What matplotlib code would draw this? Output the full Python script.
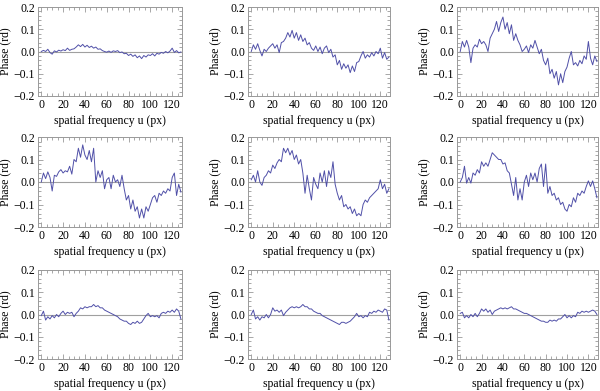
import numpy as np
import matplotlib
matplotlib.use("Agg")
import matplotlib.pyplot as plt
from matplotlib.ticker import MultipleLocator

# spatial frequency (px), sampled every 2 px
u = np.arange(0, 129, 2)

phase_1 = [0.000, 0.005, 0.000, 0.010, -0.005, -0.012, 0.003, -0.002, 0.006, 0.002,
           0.008, 0.004, 0.015, 0.005, 0.010, 0.012, 0.020, 0.030, 0.022, 0.032,
           0.020, 0.028, 0.018, 0.024, 0.015, 0.020, 0.010, 0.012, 0.004, 0.000,
           -0.003, 0.002, -0.004, 0.003, 0.000, 0.004, -0.005, -0.002, -0.010, -0.008,
           -0.018, -0.012, -0.022, -0.015, -0.028, -0.020, -0.032, -0.018, -0.025, -0.015,
           -0.018, -0.010, -0.020, -0.008, -0.012, -0.004, -0.008, 0.000, -0.006, 0.002,
           0.015, -0.004, 0.004, -0.006, -0.002]
phase_2 = [0.000, 0.030, 0.010, 0.035, 0.005, -0.020, 0.010, 0.000, 0.015, 0.025,
           0.035, 0.015, 0.030, -0.005, 0.040, 0.045, 0.060, 0.085, 0.065, 0.095,
           0.060, 0.085, 0.050, 0.075, 0.045, 0.060, 0.030, 0.040, 0.015, 0.005,
           0.025, 0.000, 0.020, -0.010, 0.015, 0.025, -0.005, 0.010, -0.025, -0.015,
           -0.060, -0.040, -0.080, -0.055, -0.075, -0.060, -0.095, -0.065, -0.090, -0.050,
           -0.045, -0.020, 0.000, -0.030, -0.015, -0.025, -0.005, -0.020, 0.000, -0.010,
           0.015, -0.030, -0.005, -0.035, -0.025]
phase_3 = [0.000, 0.045, 0.020, 0.050, 0.020, -0.050, 0.015, 0.030, 0.020, 0.055,
           0.035, 0.045, 0.030, 0.000, 0.060, 0.080, 0.100, 0.135, 0.090, 0.130,
           0.155, 0.100, 0.130, 0.080, 0.120, 0.050, 0.080, 0.050, 0.030, 0.000,
           0.010, 0.025, -0.005, 0.030, 0.015, 0.050, 0.020, -0.010, 0.010, -0.040,
           -0.060, -0.030, -0.100, -0.080, -0.120, -0.090, -0.150, -0.100, -0.140, -0.090,
           -0.070, -0.030, 0.000, -0.060, -0.050, -0.065, -0.040, -0.055, -0.020, -0.035,
           0.045, -0.030, -0.060, -0.020, -0.045]
phase_4 = [0.000, 0.040, 0.015, 0.045, 0.020, -0.040, 0.030, 0.025, 0.045, 0.055,
           0.040, 0.050, 0.045, 0.070, 0.035, 0.100, 0.090, 0.150, 0.110, 0.165,
           0.120, 0.100, 0.140, 0.090, 0.150, 0.000, 0.050, 0.020, 0.050, -0.030,
           0.010, 0.020, -0.030, 0.030, 0.000, 0.010, -0.020, 0.030, -0.030, -0.080,
           -0.060, -0.120, -0.080, -0.130, -0.110, -0.160, -0.120, -0.160, -0.110, -0.130,
           -0.100, -0.070, -0.060, -0.090, -0.050, -0.060, -0.040, -0.050, -0.030, -0.040,
           0.020, 0.040, -0.060, -0.010, -0.045]
phase_5 = [0.010, 0.030, 0.000, 0.050, 0.000, -0.015, 0.020, 0.030, 0.050, 0.040,
           0.075, 0.060, 0.085, 0.100, 0.090, 0.150, 0.130, 0.150, 0.120, 0.140,
           0.100, 0.120, 0.080, 0.100, 0.040, -0.050, 0.030, -0.030, -0.080, 0.020,
           -0.010, -0.030, 0.040, 0.000, 0.050, -0.020, 0.050, 0.020, 0.090, -0.010,
           -0.050, -0.080, -0.060, -0.110, -0.100, -0.120, -0.110, -0.140, -0.120, -0.150,
           -0.140, -0.150, -0.100, -0.080, -0.090, -0.070, -0.060, -0.050, -0.040, -0.030,
           0.010, -0.030, -0.010, -0.050, -0.030]
phase_6 = [0.000, 0.020, 0.070, -0.005, 0.020, -0.005, 0.040, 0.030, 0.055, 0.040,
           0.090, 0.070, 0.085, 0.070, 0.100, 0.130, 0.120, 0.110, 0.100, 0.100,
           0.080, 0.085, 0.050, 0.040, -0.010, -0.060, 0.020, -0.080, -0.030, -0.080,
           0.000, 0.030, -0.020, 0.040, 0.010, 0.040, 0.000, 0.060, 0.080, -0.020,
           0.080, -0.050, -0.020, -0.060, -0.050, -0.080, -0.070, -0.100, -0.090, -0.120,
           -0.130, -0.100, -0.110, -0.070, -0.090, -0.050, -0.060, -0.040, -0.050, -0.020,
           0.005, -0.020, 0.005, -0.030, -0.070]
phase_7 = [-0.005, 0.015, -0.025, -0.010, -0.020, -0.005, -0.015, 0.000, -0.010, 0.005,
           0.015, 0.000, 0.010, 0.005, 0.010, -0.010, 0.005, 0.015, 0.030, 0.025,
           0.035, 0.030, 0.035, 0.035, 0.045, 0.035, 0.040, 0.030, 0.030, 0.020,
           0.015, 0.010, 0.005, 0.000, -0.005, -0.010, -0.020, -0.025, -0.030, -0.030,
           -0.040, -0.045, -0.035, -0.040, -0.030, -0.040, -0.035, -0.020, -0.005, 0.005,
           -0.010, -0.005, -0.010, -0.005, -0.015, 0.005, 0.010, 0.005, 0.015, 0.010,
           0.020, 0.010, 0.025, 0.015, -0.020]
phase_8 = [0.000, 0.020, -0.020, -0.010, -0.025, -0.010, -0.015, 0.000, -0.015, 0.000,
           0.030, 0.015, 0.020, 0.010, 0.020, -0.005, 0.010, 0.020, 0.030, 0.035,
           0.030, 0.035, 0.030, 0.035, 0.045, 0.035, 0.035, 0.025, 0.025, 0.015,
           0.010, 0.005, 0.005, -0.005, -0.010, -0.015, -0.020, -0.025, -0.030, -0.035,
           -0.040, -0.045, -0.035, -0.035, -0.040, -0.035, -0.030, -0.020, -0.010, 0.005,
           -0.010, -0.005, -0.015, -0.005, -0.010, 0.010, 0.005, 0.015, 0.010, 0.020,
           0.015, 0.010, 0.025, 0.020, -0.025]
phase_9 = [0.005, 0.010, -0.015, -0.005, -0.015, 0.000, -0.010, 0.005, -0.010, 0.005,
           0.025, 0.015, 0.025, 0.010, 0.020, 0.000, 0.015, 0.020, 0.025, 0.030,
           0.025, 0.030, 0.025, 0.030, 0.035, 0.025, 0.025, 0.020, 0.015, 0.010,
           0.005, 0.005, 0.000, -0.005, -0.010, -0.015, -0.020, -0.025, -0.030, -0.030,
           -0.035, -0.035, -0.025, -0.030, -0.025, -0.030, -0.020, -0.020, -0.010, 0.000,
           -0.015, -0.005, -0.015, -0.005, -0.010, 0.010, 0.005, 0.015, 0.010, 0.015,
           0.010, 0.015, 0.020, 0.015, 0.000]

panels = [phase_1, phase_2, phase_3, phase_4, phase_5, phase_6, phase_7, phase_8, phase_9]

plt.rcParams['font.family'] = ['Liberation Serif', 'DejaVu Serif']
fs = 8.5

W, H = 600, 391
fig = plt.figure(figsize=(W / 100, H / 100), dpi=100)

# axes boxes in pixels: (left, right) per column, (top, bottom) per row
cols = [(38, 182), (248, 390), (457, 598)]
rows = [(7, 96), (137, 227), (270, 359)]

frame_col = '#999999'
line_col = '#5050a8'

for i, y in enumerate(panels):
    r, c = divmod(i, 3)
    l, rr = cols[c]
    t, b = rows[r]
    ax = fig.add_axes([l / W, 1 - b / H, (rr - l) / W, (b - t) / H])
    ax.axhline(0, color='#a0a0a0', lw=0.8, zorder=1)
    ax.plot(u, y, color=line_col, lw=0.7, zorder=2)
    ax.set_xlim(-3, 129)
    ax.set_ylim(-0.2, 0.2)
    ax.xaxis.set_major_locator(MultipleLocator(20))
    ax.xaxis.set_minor_locator(MultipleLocator(5))
    ax.yaxis.set_major_locator(MultipleLocator(0.1))
    ax.yaxis.set_minor_locator(MultipleLocator(0.02))
    ax.yaxis.set_major_formatter(lambda v, pos: ('%.1f' % v).replace('-', '\u2212'))
    ax.tick_params(which='both', direction='in', top=True, right=True,
                   color=frame_col, width=0.6, labelsize=fs, pad=2)
    ax.tick_params(which='major', length=3.5)
    ax.tick_params(which='minor', length=2)
    for s in ax.spines.values():
        s.set_color(frame_col)
        s.set_linewidth(0.7)
    ax.set_xlabel('spatial frequency u (px)', fontsize=fs, labelpad=3)
    ax.set_ylabel('Phase (rd)', fontsize=fs)
    ax.yaxis.set_label_coords(-27 / (rr - l), 0.5)

fig.savefig('out.png', dpi=100)
